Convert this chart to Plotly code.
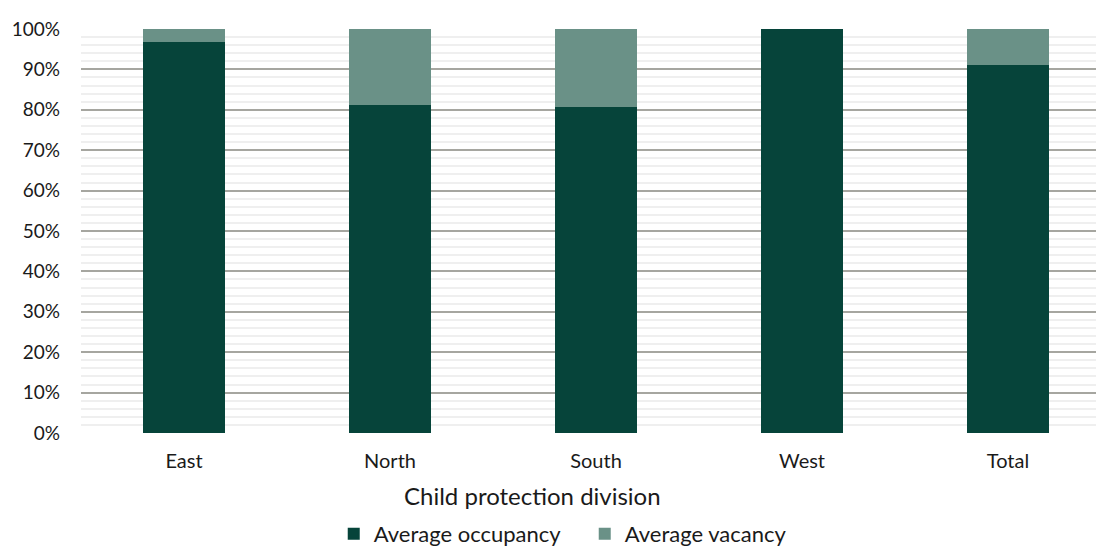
import plotly.graph_objects as go

divisions = ["East", "North", "South", "West", "Total"]
occupancy = [96.8, 81.2, 80.8, 100.0, 91.1]
vacancy = [3.2, 18.8, 19.2, 0.0, 8.9]
y_ticks = [0, 10, 20, 30, 40, 50, 60, 70, 80, 90, 100]
y_tick_labels = [f"{v}%" for v in y_ticks]

FONT = "Lato"
fig = go.Figure()
fig.add_trace(go.Bar(x=divisions, y=occupancy, name="Average occupancy",
                     marker=dict(color="#06443a", line=dict(width=0))))
fig.add_trace(go.Bar(x=divisions, y=vacancy, name="Average vacancy",
                     marker=dict(color="#6a9187", line=dict(width=0))))

fig.update_layout(
    barmode="stack",
    bargap=0.6,
    width=1096, height=549,
    margin=dict(l=81, r=0, t=29, b=116, autoexpand=False),
    paper_bgcolor="white", plot_bgcolor="white",
    font=dict(family=FONT, size=18, color="#1a1a1a"),
    showlegend=True,
    legend=dict(orientation="h", x=0.249, xanchor="left", y=-0.25, yanchor="middle",
                font=dict(size=22), traceorder="normal", itemwidth=30,
                entrywidthmode="pixels", entrywidth=206),
)
fig.add_annotation(
    text="Child protection division", xref="paper", yref="paper",
    x=(532 - 81) / 1015, y=-0.155, xanchor="center", yanchor="middle",
    showarrow=False, font=dict(size=24, color="#1a1a1a"),
)
fig.update_xaxes(
    range=[-0.5, 4.427], showgrid=False, zeroline=False, showline=False,
    ticks="", tickfont=dict(size=20), ticklabelstandoff=14,
)
fig.update_yaxes(
    range=[0, 100], tickvals=y_ticks, ticktext=y_tick_labels, tickfont=dict(size=19),
    showgrid=True, gridcolor="#a6a6a0", gridwidth=2,
    zeroline=False, showline=False, ticks="", ticklabelstandoff=20,
    minor=dict(dtick=2, showgrid=True, gridcolor="#efefef", gridwidth=2),
)
fig.write_html("out.html")
